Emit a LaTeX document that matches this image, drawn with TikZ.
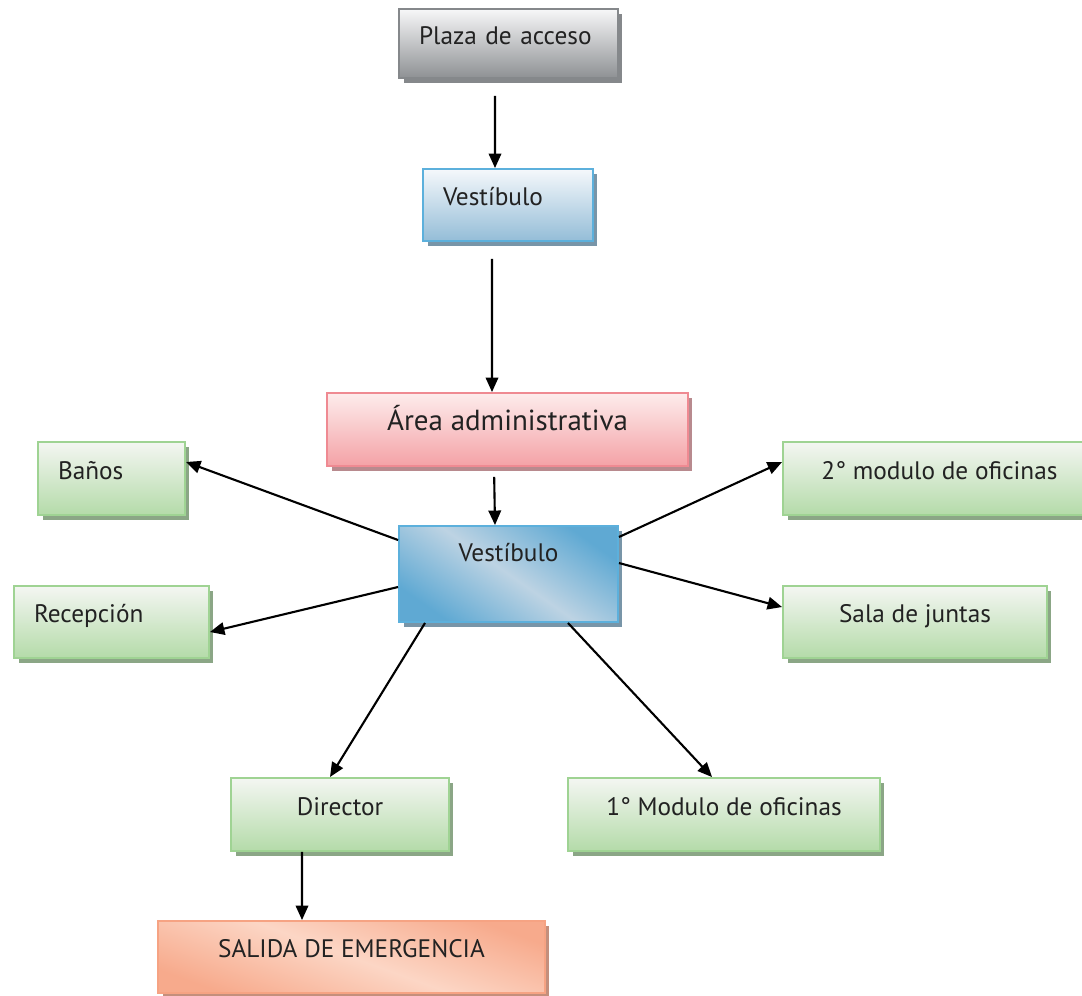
\documentclass[tikz,border=0pt]{standalone}
\usepackage{fontspec}
\setmainfont{PT Sans}
\usetikzlibrary{arrows.meta,shadows,calc}

\definecolor{txt}{HTML}{222222}
\definecolor{grisT}{HTML}{F7F7F8}
\definecolor{grisB}{HTML}{8E9194}
\definecolor{grisL}{HTML}{85888B}
\definecolor{azulT}{HTML}{F5F8FB}
\definecolor{azulB}{HTML}{94BDD7}
\definecolor{azulL}{HTML}{5CB0DC}
\definecolor{azulS}{HTML}{7895A8}
\definecolor{azulF}{HTML}{5FA9D3}
\definecolor{azulC}{HTML}{BDD3E3}
\definecolor{rosaT}{HTML}{FDECEC}
\definecolor{rosaB}{HTML}{F4A2A6}
\definecolor{rosaL}{HTML}{EF8A92}
\definecolor{rosaS}{HTML}{B88A8E}
\definecolor{verdeT}{HTML}{F4F6F2}
\definecolor{verdeB}{HTML}{B4DBA9}
\definecolor{verdeL}{HTML}{9FD393}
\definecolor{verdeS}{HTML}{8BA686}
\definecolor{salmF}{HTML}{F7AA8C}
\definecolor{salmC}{HTML}{FCD6C5}
\definecolor{salmL}{HTML}{F6A383}
\definecolor{salmS}{HTML}{C48F7C}

\tikzset{
  caja/.style={rectangle, line width=1.1pt, text=txt, font=\fontsize{14.4}{17}\selectfont,
    text height=0.53cm, text depth=0.51cm, inner ysep=0pt},
  sombra/.style={general shadow={fill=#1, shadow xshift=0.09cm, shadow yshift=-0.09cm}},
  izq/.style={text width=#1, align=left, inner xsep=0.4cm},
  gris/.style={caja, draw=grisL, top color=grisT, bottom color=grisB, sombra=grisL},
  azul/.style={caja, draw=azulL, top color=azulT, bottom color=azulB, sombra=azulS},
  rosa/.style={caja, draw=rosaL, top color=rosaT, bottom color=rosaB, sombra=rosaS},
  verde/.style={caja, draw=verdeL, top color=verdeT, bottom color=verdeB, sombra=verdeS},
  flecha/.style={line width=1.2pt, -{Triangle[length=0.29cm,width=0.25cm]}}
}

\begin{document}
\begin{tikzpicture}[x=0.02cm, y=-0.02cm]

\useasboundingbox (0,0) rectangle (1082,995);

%% cajas
\node[gris, izq=3.58cm, minimum height=1.38cm] (plaza) at (508.5,43.5) {Plaza de acceso};
\node[azul, izq=2.6cm, minimum height=1.44cm] (vest1) at (508,205) {Vestíbulo};
\node[rosa, minimum width=7.22cm, minimum height=1.46cm, font=\fontsize{16.5}{20}\selectfont] (area) at (507.5,429.5) {Área administrativa};

% vestibulo central
\node[caja, draw=azulL, top color=azulF, bottom color=azulF, middle color=azulC, shading angle=-35,
  sombra=azulS, minimum width=4.38cm, minimum height=1.92cm, text depth=1.02cm] (vest2) at (508.5,574) {Vestíbulo};

% izquierda
\node[verde, izq=2.14cm, minimum height=1.46cm] (banos) at (111.5,478.5) {Baños};
\node[verde, izq=3.1cm, minimum height=1.44cm] (recep) at (111.5,622) {Recepción};
% derecha
\node[verde, minimum width=6.26cm, minimum height=1.46cm] (mod2) at (939.5,478.5) {2° modulo de oficinas};
\node[verde, minimum width=5.28cm, minimum height=1.44cm] (sala) at (915,622) {Sala de juntas};
% abajo
\node[verde, minimum width=4.36cm, minimum height=1.46cm] (director) at (340,814.5) {Director};
\node[verde, minimum width=6.24cm, minimum height=1.46cm] (mod1) at (724,814.5) {1° Modulo de oficinas};

\node[caja, draw=salmL, top color=salmF, bottom color=salmF, middle color=salmC, shading angle=-20,
  sombra=salmS, minimum width=7.74cm, minimum height=1.44cm] (salida) at (351.5,957) {SALIDA DE EMERGENCIA};

%% flechas
\draw[flecha, shorten <=0.34cm] ([xshift=-0.27cm]plaza.south) -- ([xshift=-0.26cm]vest1.north);
\draw[flecha, shorten <=0.34cm] ([xshift=-0.32cm]vest1.south) -- ([xshift=-0.31cm]area.north);
\draw[flecha, shorten <=0.2cm] ([xshift=-0.27cm]area.south) -- ([xshift=-0.27cm]vest2.north);

\draw[flecha] ([yshift=0.68cm]vest2.west) -- ([yshift=0.33cm]banos.east);
\draw[flecha] ([yshift=-0.26cm]vest2.west) -- ([yshift=-0.2cm]recep.east);
\draw[flecha] ([yshift=0.74cm]vest2.east) -- ([yshift=0.33cm]mod2.west);
\draw[flecha] ([yshift=0.22cm]vest2.east) -- ([yshift=0.3cm]sala.west);
\draw[flecha] ([xshift=-1.67cm]vest2.south) -- ([xshift=-0.2cm]director.north);
\draw[flecha] ([xshift=1.19cm]vest2.south) -- ([xshift=-0.24cm]mod1.north);

\draw[flecha] ([xshift=-0.76cm]director.south) -- ([xshift=-0.99cm]salida.north);

\end{tikzpicture}
\end{document}
